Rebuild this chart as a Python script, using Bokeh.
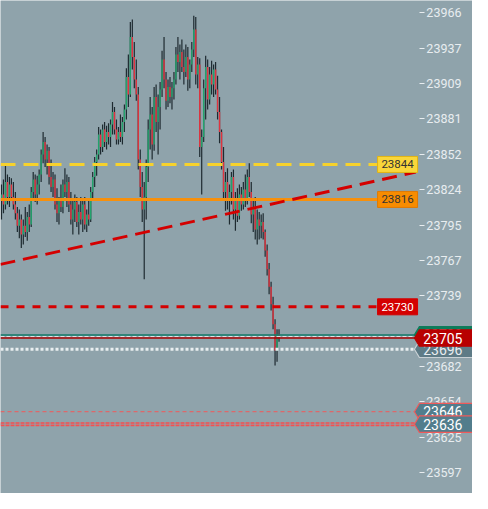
from bokeh.plotting import figure
from bokeh.models import Range1d, LinearAxis, FixedTicker, Label, PolyAnnotation, ColumnDataSource
from bokeh.core.properties import value
from bokeh.embed import file_html
from bokeh.resources import INLINE

# ---------------- data ----------------
opens = [23815,23820,23812,23830,23818,23828,23818,23812,23805,23795,
         23800,23788,23795,23790,23802,23796,23822,23832,23820,23828,
         23836,23852,23862,23848,23855,23834,23826,23832,23812,23805,
         23815,23810,23828,23822,23830,23812,23800,23808,23814,23798,
         23806,23800,23812,23796,23804,23800,23822,23834,23846,23852,
         23868,23858,23872,23862,23870,23866,23876,23886,23872,23864,
         23870,23866,23878,23888,23914,23900,23946,23930,23912,23900,
         23848,23826,23808,23818,23842,23872,23884,23860,23898,23878,
         23890,23904,23928,23912,23895,23906,23898,23905,23912,23932,
         23926,23934,23922,23918,23930,23912,23924,23936,23952,23916,
         23924,23858,23866,23905,23922,23896,23916,23908,23920,23904,
         23886,23870,23846,23822,23830,23815,23822,23834,23808,23815,
         23803,23820,23812,23824,23816,23834,23822,23804,23810,23792,
         23800,23795,23798,23790,23775,23760,23746,23732,23716,23695,
         23708]
highs = [23828,23832,23843,23836,23834,23833,23830,23822,23810,23808,
         23804,23800,23810,23806,23812,23826,23838,23836,23835,23840,
         23856,23870,23866,23860,23858,23848,23838,23836,23825,23818,
         23828,23832,23841,23836,23834,23822,23815,23820,23818,23812,
         23818,23816,23818,23808,23815,23826,23838,23850,23856,23874,
         23872,23876,23878,23875,23877,23880,23894,23890,23880,23874,
         23884,23882,23892,23921,23932,23958,23960,23942,23928,23906,
         23856,23838,23830,23848,23880,23898,23890,23906,23908,23900,
         23910,23935,23946,23918,23912,23914,23910,23918,23938,23946,
         23940,23944,23936,23940,23938,23928,23942,23963,23962,23930,
         23929,23872,23912,23931,23928,23922,23927,23924,23926,23915,
         23898,23872,23858,23838,23841,23828,23838,23840,23822,23825,
         23828,23826,23830,23836,23840,23845,23830,23816,23818,23808,
         23806,23804,23805,23792,23780,23765,23750,23738,23720,23712,
         23712]
lows = [23800,23805,23808,23812,23810,23815,23808,23800,23790,23785,
        23777,23780,23786,23783,23790,23794,23815,23814,23812,23820,
        23830,23845,23842,23836,23828,23822,23818,23808,23798,23796,
        23806,23805,23818,23810,23806,23796,23788,23798,23794,23788,
        23796,23790,23792,23790,23795,23798,23816,23826,23835,23848,
        23852,23854,23858,23856,23860,23858,23868,23868,23860,23860,
        23862,23860,23870,23880,23890,23898,23920,23905,23895,23840,
        23818,23798,23752,23800,23830,23856,23848,23855,23870,23852,
        23872,23898,23905,23888,23890,23893,23888,23896,23908,23918,
        23912,23918,23908,23914,23903,23905,23918,23930,23908,23905,
        23850,23820,23862,23880,23888,23892,23900,23898,23900,23880,
        23861,23840,23815,23807,23808,23796,23812,23800,23791,23798,
        23800,23807,23808,23810,23812,23818,23797,23790,23784,23780,
        23784,23785,23784,23770,23755,23740,23727,23712,23683,23686,
        23702]
closes = [23820,23812,23830,23818,23828,23818,23812,23805,23795,23800,
          23788,23795,23790,23802,23796,23822,23832,23820,23828,23836,
          23852,23862,23848,23855,23834,23826,23832,23812,23805,23815,
          23810,23828,23822,23830,23812,23800,23808,23814,23798,23806,
          23800,23812,23796,23804,23800,23822,23834,23846,23852,23868,
          23858,23872,23862,23870,23866,23876,23886,23872,23864,23870,
          23866,23878,23888,23914,23900,23946,23930,23912,23900,23848,
          23826,23808,23818,23842,23872,23884,23860,23898,23878,23890,
          23904,23928,23912,23895,23906,23898,23905,23912,23932,23926,
          23934,23922,23918,23930,23912,23924,23936,23952,23916,23924,
          23858,23866,23905,23922,23896,23916,23908,23920,23904,23886,
          23870,23846,23822,23830,23815,23822,23834,23808,23815,23803,
          23820,23812,23824,23816,23834,23822,23804,23810,23792,23800,
          23795,23798,23790,23775,23760,23746,23732,23716,23695,23708,
          23705]

tick_values = [23966, 23937, 23909, 23881, 23852, 23824, 23795,
               23767, 23739, 23710, 23682, 23654, 23625, 23597]

level_yellow = 23844
level_orange = 23816
level_red = 23730
level_last = 23707.5
level_ask = 23706.2
level_bid = 23705
level_avg = 23696
level_stop1 = 23646
level_stop2 = 23636

trend_x = [-0.5, 209.0]
trend_y = [23764, 23838]

# ---------------- figure ----------------
W, H = 472, 493
BG = "#8fa3ab"
X_END = 209.0          # where horizontal lines end (tag tip)
BOX_X = 199.8          # centre of the boxed level labels

p = figure(width=W, height=H, output_backend="svg", toolbar_location=None,
           x_range=Range1d(-0.5, 237.6), y_range=Range1d(23580.5, 23975.3),
           x_axis_location=None, y_axis_location=None,
           background_fill_color=BG, border_fill_color=BG,
           outline_line_color=None, min_border=0)
p.grid.grid_line_color = None
p.grid.visible = False

# candles
idx = list(range(len(opens)))
tops = [max(o, c) for o, c in zip(opens, closes)]
bots = [min(o, c) for o, c in zip(opens, closes)]
cols = ["#22a36c" if c >= o else "#e0343f" for o, c in zip(opens, closes)]
src = ColumnDataSource(dict(x=idx, h=highs, l=lows, top=tops, bot=bots, col=cols))
p.segment(x0="x", y0="h", x1="x", y1="l", source=src, line_color="#1e2a30", line_width=1.2)
p.vbar(x="x", top="top", bottom="bot", width=0.7, fill_color="col", line_color=None, source=src)

# level lines
p.line([-0.5, BOX_X], [level_yellow] * 2, line_color="#f7d22c", line_width=3, line_dash="15 8")
p.line([-0.5, BOX_X], [level_orange] * 2, line_color="#f7900c", line_width=3)
p.line(trend_x, trend_y, line_color="#d40000", line_width=3, line_dash="15 8")
p.line([-0.5, BOX_X], [level_red] * 2, line_color="#d40000", line_width=3, line_dash="8 8")

p.line([-0.5, X_END], [level_last] * 2, line_color="#137a68", line_width=1.5)
p.line([-0.5, X_END], [level_ask] * 2, line_color="#dfe6e9", line_width=1, line_dash="4 2")
p.line([-0.5, X_END], [level_bid] * 2, line_color="#a80000", line_width=1.5)
p.line([-0.5, X_END], [level_avg] * 2, line_color="#e9eef0", line_width=3, line_dash="3 2")
p.line([-0.5, X_END], [level_stop1] * 2, line_color="#f25a5a", line_width=1, line_dash="4 3")
p.line([-0.5, X_END], [level_stop2] * 2, line_color="#f45050", line_width=4, line_dash="4 1")
p.line([-0.5, X_END], [level_stop2] * 2, line_color=BG, line_width=0.8)

# boxed labels
box_levels = [level_yellow, level_orange, level_red]
box_fill = ["#f9d63a", "#f78c00", "#d40000"]
box_line = ["#e2b411", "#e07a00", "#d40000"]
box_text_col = ["#333333", "#333333", "#ffffff"]
p.rect(x=[BOX_X] * 3, y=box_levels, width=40, height=16, width_units="screen",
       height_units="screen", fill_color=box_fill, line_color=box_line, line_width=1)
p.text(x=[BOX_X] * 3, y=box_levels, text=[str(v) for v in box_levels],
       text_align="center", text_baseline="middle", text_font=value("Roboto"),
       text_font_size="11.5px", text_color=box_text_col)

# right axis inside the plot
yaxis = LinearAxis(fixed_location=210.8, ticker=FixedTicker(ticks=tick_values),
                   axis_line_color=None, major_tick_in=0, major_tick_out=5,
                   major_tick_line_color="#e8edf0", minor_tick_line_color=None,
                   major_label_text_color="#e8edf0", major_label_text_font="Roboto",
                   major_label_text_font_size="12.5px", major_label_standoff=2)
p.add_layout(yaxis, "right")

# arrow tags
HALF = 6.6


def tag(level, text, fill, border, tcol):
    p.add_layout(PolyAnnotation(
        xs=[208.3, 210.8, 240, 240, 210.8],
        ys=[level, level + HALF, level + HALF, level - HALF, level - HALF],
        fill_color=fill, fill_alpha=1, line_color=border, line_alpha=1, line_width=1.2))
    p.add_layout(Label(x=212.7, y=level, text=text, text_color=tcol,
                       text_font="Roboto", text_font_size="14px",
                       text_baseline="middle", text_align="left"))


tag(level_last, "23708", "#0e7c5b", "#0e7c5b", "#ffffff")
tag(level_avg, str(level_avg), "#5e7b86", "#c9d1d5", "#e8edf0")
tag(level_bid, str(level_bid), "#b80000", "#b80000", "#ffffff")
tag(level_stop1, str(level_stop1), "#527d8c", "#f05a5a", "#ffffff")
tag(level_stop2, str(level_stop2), "#527d8c", "#f05a5a", "#ffffff")

open("out.html", "w").write(file_html(p, INLINE))
